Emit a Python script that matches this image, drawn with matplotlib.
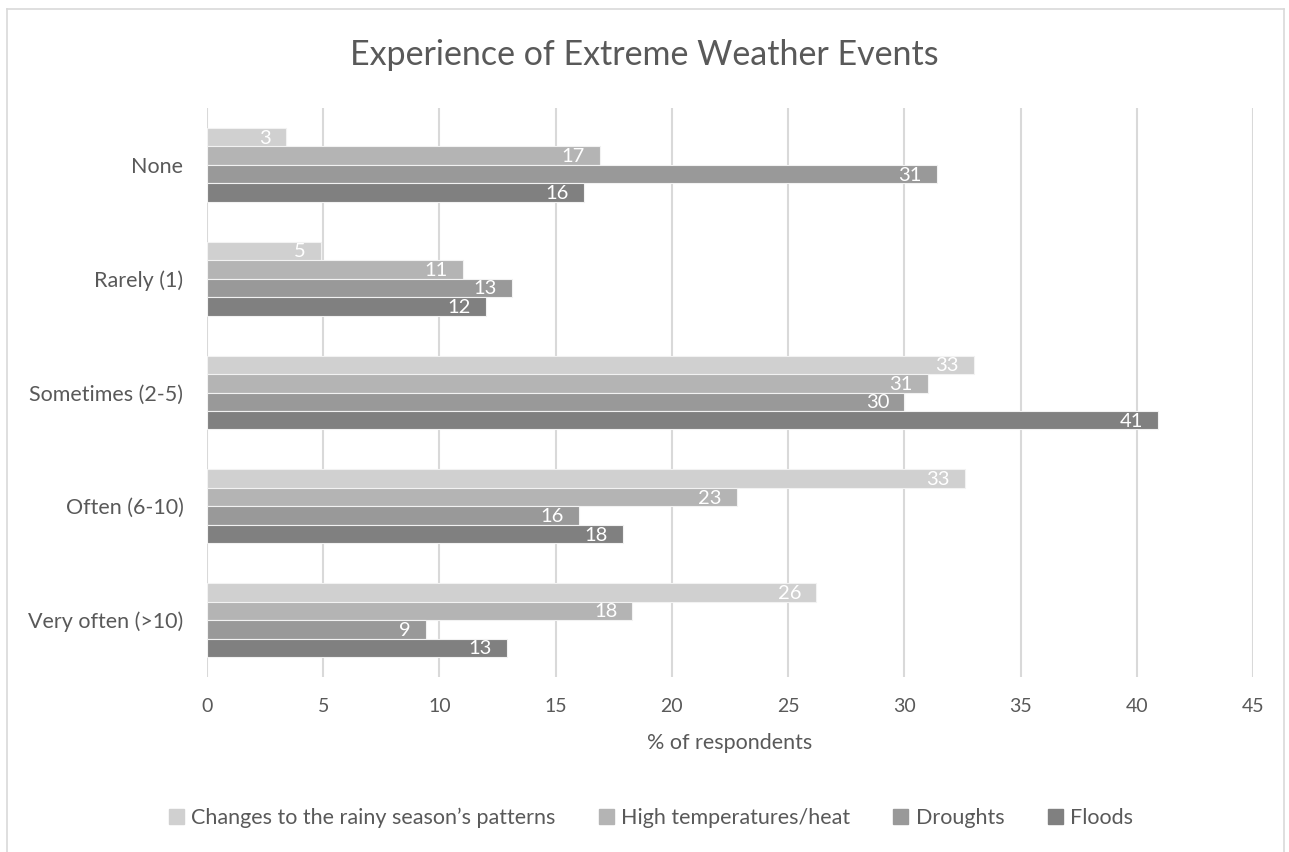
import matplotlib
matplotlib.use("Agg")
import matplotlib.pyplot as plt
from matplotlib.lines import Line2D
import numpy as np

plt.rcParams['font.family'] = ['Lato', 'DejaVu Sans']

categories = ["None", "Rarely (1)", "Sometimes (2-5)", "Often (6-10)", "Very often (>10)"]
series_names = ["Changes to the rainy season\u2019s patterns", "High temperatures/heat", "Droughts", "Floods"]
rainy_season = [3.4, 4.9, 33.0, 32.6, 26.2]
high_temps = [16.9, 11.0, 31.0, 22.8, 18.3]
droughts = [31.4, 13.1, 30.0, 16.0, 9.4]
floods = [16.2, 12.0, 40.9, 17.9, 12.9]
x_ticks = [0, 5, 10, 15, 20, 25, 30, 35, 40, 45]

series = [rainy_season, high_temps, droughts, floods]
colors = ["#D0D0D0", "#B4B4B4", "#999999", "#808080"]
text_color = "#595959"

fig = plt.figure(figsize=(12.89, 8.52), dpi=100)
ax = fig.add_axes([0.1606, 0.2054, 0.8115, 0.6678])

n = len(categories)
group = 0.65
bh = group / len(series)
ypos = np.arange(n)
for i, (vals, col, name) in enumerate(zip(series, colors, series_names)):
    y = ypos - group / 2 + bh * (i + 0.5)
    bars = ax.barh(y, vals, height=bh, color=col, edgecolor="#F2F2F2",
                   linewidth=0.8, label=name, zorder=3)
    for b, v in zip(bars, vals):
        ax.annotate(f"{v:.0f}", xy=(v, b.get_y() + b.get_height() / 2),
                    xytext=(-15, -1), textcoords="offset pixels",
                    ha="right", va="center", color="white", fontsize=14.5,
                    zorder=4)

ax.set_ylim(n - 0.5, -0.5)
ax.set_xlim(0, 45)
ax.set_xticks(x_ticks)
ax.set_yticks(ypos)
ax.set_yticklabels(categories)
ax.tick_params(axis="both", length=0, labelcolor=text_color)
ax.tick_params(axis="x", pad=15, labelsize=14)
ax.tick_params(axis="y", pad=17, labelsize=15.5)
ax.grid(axis="x", color="#D9D9D9", linewidth=1.5, zorder=0)
for s in ax.spines.values():
    s.set_visible(False)

ax.set_xlabel("% of respondents", fontsize=15.5, color=text_color, labelpad=13)
fig.text(0.5, 1 - 55 / 852, "Experience of Extreme Weather Events",
         ha="center", va="center", fontsize=24.5, color=text_color)

handles = [plt.Rectangle((0, 0), 1, 1, color=c) for c in colors]
fig.legend(handles, series_names, loc="center", bbox_to_anchor=(0.505, 1 - 818 / 852),
           ncol=4, frameon=False, fontsize=15.5, handlelength=0.7, handleheight=0.7,
           handletextpad=0.35, columnspacing=2.0, labelcolor=text_color)

# chart-area border
W, H = 1289, 852
bx0, bx1, by0 = 6.5 / W, 1284 / W, 1 - 9 / H
for xs, ys in [((bx0, bx1), (by0, by0)), ((bx0, bx0), (0, by0)), ((bx1, bx1), (0, by0))]:
    fig.add_artist(Line2D(xs, ys, transform=fig.transFigure, color="#D9D9D9", linewidth=1.2))

fig.savefig("out.png", dpi=100, facecolor="white")
